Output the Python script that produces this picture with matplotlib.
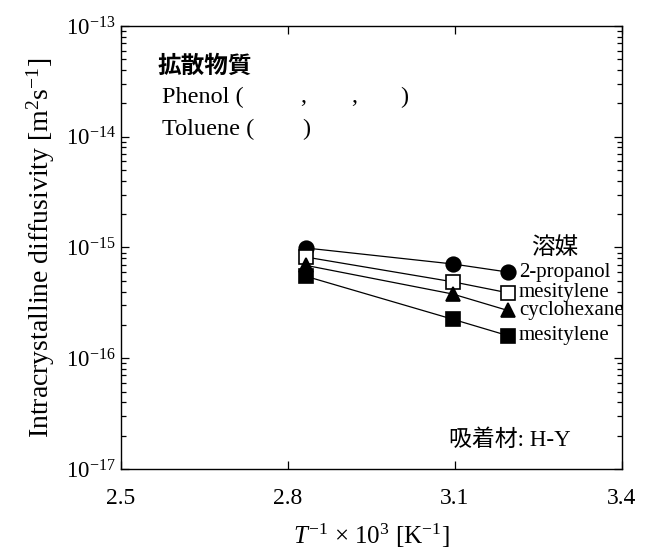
import matplotlib
matplotlib.use("Agg")
import matplotlib.pyplot as plt
from matplotlib.ticker import FixedLocator, NullFormatter, LogFormatterSciNotation

plt.rcParams["font.family"] = ["Liberation Serif", "Noto Sans CJK JP"]
plt.rcParams["mathtext.fontset"] = "custom"
plt.rcParams["mathtext.rm"] = "Liberation Serif"
plt.rcParams["mathtext.it"] = "Liberation Serif:italic"
plt.rcParams["mathtext.bf"] = "Liberation Serif:bold"

CJK = ["Noto Sans CJK JP", "DejaVu Sans"]
MIXED = ["Liberation Serif", "Noto Sans CJK JP"]

# 1000/T for 353, 323 and 313 K
inv_t = [2.832, 3.096, 3.195]

# intracrystalline diffusivity [m2/s]
d_phenol_propanol = [9.9e-16, 7.1e-16, 6.0e-16]
d_phenol_mesitylene = [8.2e-16, 4.9e-16, 3.9e-16]
d_phenol_cyclohexane = [6.9e-16, 3.8e-16, 2.7e-16]
d_toluene_mesitylene = [5.5e-16, 2.25e-16, 1.6e-16]

series = [
    (d_phenol_propanol, "o", "black", "2-propanol"),
    (d_phenol_mesitylene, "s", "white", "mesitylene"),
    (d_phenol_cyclohexane, "^", "black", "cyclohexane"),
    (d_toluene_mesitylene, "s", "black", "mesitylene"),
]

x_ticks = [2.5, 2.8, 3.1, 3.4]
y_ticks = [1e-17, 1e-16, 1e-15, 1e-14, 1e-13]
y_minor = [m * d for d in y_ticks[:-1] for m in range(2, 10)]

fig = plt.figure(figsize=(6.45, 5.6), dpi=100)
ax = fig.add_axes([0.1876, 0.1625, 0.7767, 0.7911])

for vals, marker, face, label in series:
    ms = 10.5 if marker == "o" else (10 if marker == "^" else 9.5)
    ax.plot(inv_t, vals, color="black", lw=0.9, marker=marker, ms=ms,
            mfc=face, mec="black", mew=1.2, zorder=3)
    ax.annotate(label, (inv_t[-1], vals[-1]), xytext=(8, 0),
                textcoords="offset points", va="center", ha="left",
                fontsize=15)

ax.annotate("溶媒", (inv_t[-1], d_phenol_propanol[-1]), xytext=(17, 18),
            textcoords="offset points", va="center", ha="left",
            fontsize=17, family=CJK)

ax.set_yscale("log")
ax.set_xlim(2.5, 3.4)
ax.set_ylim(1e-17, 1e-13)
ax.xaxis.set_major_locator(FixedLocator(x_ticks))
ax.set_xticklabels([f"{v:.1f}" for v in x_ticks])
ax.yaxis.set_major_locator(FixedLocator(y_ticks))
ax.yaxis.set_major_formatter(LogFormatterSciNotation())
ax.yaxis.set_minor_locator(FixedLocator(y_minor))
ax.yaxis.set_minor_formatter(NullFormatter())

ax.tick_params(which="both", direction="in", top=True, right=True,
               width=0.9, color="black")
ax.tick_params(which="major", length=6)
ax.tick_params(which="minor", length=3.5)
ax.tick_params(axis="x", labelsize=17, pad=14)
ax.tick_params(axis="y", labelsize=16.5, pad=4)
for s in ax.spines.values():
    s.set_linewidth(1.0)

ax.set_ylabel("Intracrystalline diffusivity [m$^{\\mathregular{2}}$s$^{\\mathregular{-1}}$]",
              fontsize=20, labelpad=6)
ax.set_xlabel("$T^{\\mathregular{-1}}$ × 10$^{\\mathregular{3}}$ [K$^{\\mathregular{-1}}$]",
              fontsize=18, labelpad=9)

# annotations in the plot area
fig.text(157 / 645, 1 - 66 / 560, "拡散物質", fontsize=17, family=CJK,
         va="center", ha="left", fontweight="bold")
fig.text(162 / 645, 1 - 97 / 560, "Phenol (", fontsize=17.5, va="center", ha="left")
fig.text(300 / 645, 1 - 97 / 560, ",", fontsize=17.5, va="center", ha="left")
fig.text(351 / 645, 1 - 97 / 560, ",", fontsize=17.5, va="center", ha="left")
fig.text(400 / 645, 1 - 97 / 560, ")", fontsize=17.5, va="center", ha="left")
fig.text(162 / 645, 1 - 129 / 560, "Toluene (", fontsize=17.5, va="center", ha="left")
fig.text(302 / 645, 1 - 129 / 560, ")", fontsize=17.5, va="center", ha="left")
fig.text(449 / 645, 1 - 440 / 560, "吸着材: H-Y", fontsize=16.5, family=MIXED,
         va="center", ha="left")

fig.savefig("out.png", dpi=100)
